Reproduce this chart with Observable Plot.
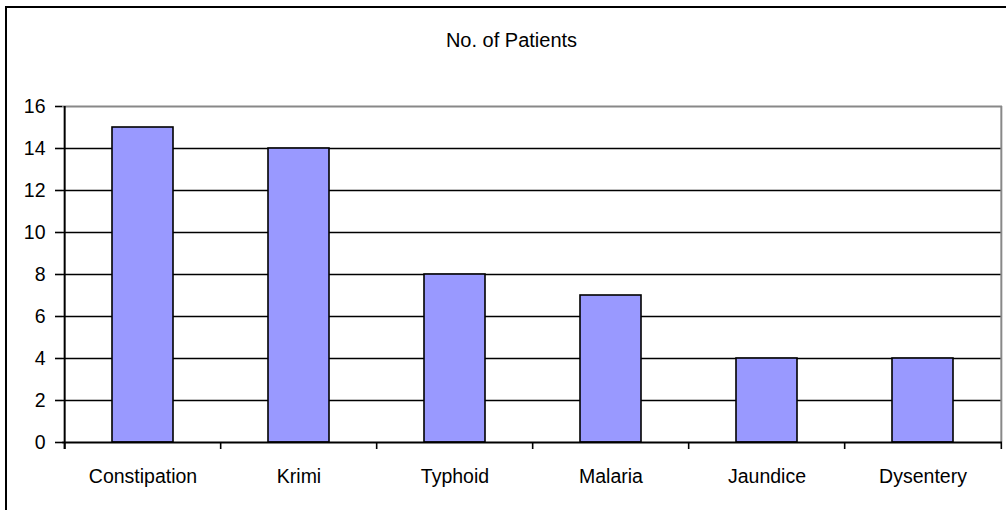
<!DOCTYPE html>
<html>
<head>
<meta charset="utf-8">
<script src="https://cdn.jsdelivr.net/npm/d3@7"></script>
<script src="https://cdn.jsdelivr.net/npm/@observablehq/plot@0.6"></script>
<style>
  html, body { margin: 0; padding: 0; background: #fff; overflow: hidden; }
  #wrap { position: relative; width: 1006px; height: 510px; }
  #frame { position: absolute; left: 5px; top: 6px; width: 1100px; height: 600px;
           border-left: 2px solid #000; border-top: 2px solid #000; pointer-events: none; }
</style>
</head>
<body>
<div id="wrap"><div id="frame"></div></div>
<script>
const title = "No. of Patients";
const categories = ["Constipation", "Krimi", "Typhoid", "Malaria", "Jaundice", "Dysentery"];
const patients = [15, 14, 8, 7, 4, 4];
const yTicks = [0, 2, 4, 6, 8, 10, 12, 14, 16];
const gridTicks = [2, 4, 6, 8, 10, 12, 14];

const data = categories.map((c, i) => ({category: c, value: patients[i]}));

const W = 1006, H = 510, mL = 62, mR = 4, mT = 106, mB = 68;
const step = (W - mL - mR) / categories.length;
const pInner = 0.609;
const tickLen = 7 / ((H - mT - mB) / 16); // 7px in data units

const chart = Plot.plot({
  width: W,
  height: H,
  marginLeft: mL,
  marginRight: mR,
  marginTop: mT,
  marginBottom: mB,
  style: {fontFamily: "'Liberation Sans', Arial, sans-serif", fontSize: "19.5px", color: "#000", background: "transparent"},
  x: {domain: categories, paddingInner: pInner, paddingOuter: pInner / 2, label: null},
  y: {domain: [0, 16], label: null},
  marks: [
    Plot.ruleY(gridTicks, {stroke: "#000", strokeWidth: 1.6}),
    Plot.ruleY([16], {stroke: "#888", strokeWidth: 2}),
    Plot.ruleX([categories[categories.length - 1]], {dx: step / 2, y1: 0, y2: 16, stroke: "#888", strokeWidth: 2}),
    Plot.barY(data, {x: "category", y: "value", fill: "#9999ff", stroke: "#000", strokeWidth: 1.6}),
    Plot.ruleY([0], {stroke: "#000", strokeWidth: 2}),
    Plot.ruleX(categories, {dx: -step / 2, y1: 0, y2: -tickLen, stroke: "#000", strokeWidth: 1.6}),
    Plot.ruleX([categories[categories.length - 1]], {dx: step / 2, y1: 0, y2: -tickLen, stroke: "#000", strokeWidth: 1.6}),
    Plot.ruleX([categories[0]], {dx: -step / 2, y1: -tickLen, y2: 16, stroke: "#000", strokeWidth: 2}),
    Plot.axisY({ticks: yTicks, tickSize: 7, tickPadding: 10, stroke: "#000", strokeWidth: 1.6, fill: "#000", label: null}),
    Plot.axisX({tickSize: 0, tickPadding: 27, fill: "#000", label: null}),
    Plot.text([title], {frameAnchor: "top", dy: -60, dx: -21, lineAnchor: "bottom", fontSize: 20, fill: "#000"})
  ]
});
document.getElementById("wrap").appendChild(chart);
chart.style.position = "absolute";
chart.style.left = "0";
chart.style.top = "0";
</script>
</body>
</html>
